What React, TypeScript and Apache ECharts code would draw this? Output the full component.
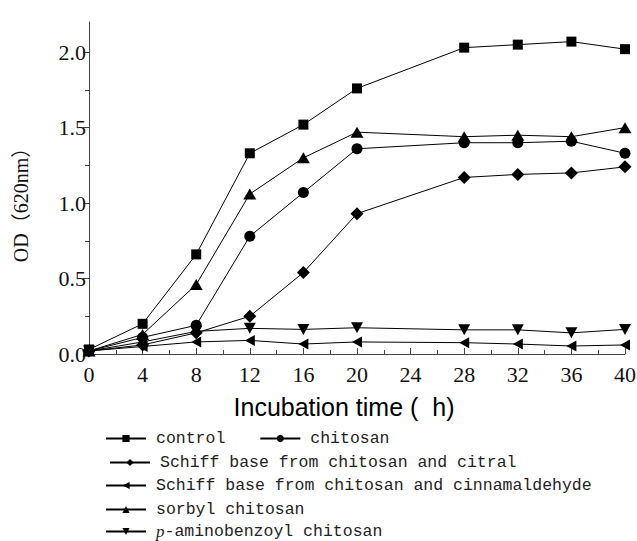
import React, { useEffect, useRef } from "react";
import * as echarts from "echarts";

const hours = [0, 4, 8, 12, 16, 20, 28, 32, 36, 40];
const control = [0.03, 0.2, 0.66, 1.33, 1.52, 1.76, 2.03, 2.05, 2.07, 2.02];
const chitosan = [0.02, 0.11, 0.19, 0.78, 1.07, 1.36, 1.4, 1.4, 1.41, 1.33];
const citral = [0.02, 0.06, 0.14, 0.25, 0.54, 0.93, 1.17, 1.19, 1.2, 1.24];
const cinnamaldehyde = [0.02, 0.05, 0.08, 0.09, 0.066, 0.08, 0.075, 0.066, 0.053, 0.06];
const sorbyl = [0.02, 0.13, 0.46, 1.06, 1.3, 1.47, 1.44, 1.45, 1.44, 1.5];
const aminobenzoyl = [0.02, 0.08, 0.15, 0.17, 0.163, 0.174, 0.16, 0.16, 0.14, 0.163];

const seriesNames = [
  "control",
  "chitosan",
  "Schiff base from chitosan and citral",
  "Schiff base from chitosan and cinnamaldehyde",
  "sorbyl chitosan",
  "p-aminobenzoyl chitosan",
];
const yMajorTicks = [0, 0.5, 1, 1.5, 2];
const yMinorTicks = [0.25, 0.75, 1.25, 1.75];
const xTitle = "Incubation time (  h)";
const yTitle = "OD（620nm）";

export default function App() {
  const ref = useRef<HTMLDivElement>(null);
  useEffect(() => {
    const chart = echarts.init(ref.current!, null, { renderer: "svg" });
    const values = [control, chitosan, citral, cinnamaldehyde, sorbyl, aminobenzoyl];
    const symbols: any[] = [
      { symbol: "rect", size: 10, rotate: 0 },
      { symbol: "circle", size: 11, rotate: 0 },
      { symbol: "diamond", size: 13, rotate: 0 },
      { symbol: "triangle", size: [11, 10], rotate: 90 },
      { symbol: "triangle", size: [13, 11], rotate: 0 },
      { symbol: "triangle", size: [12, 11], rotate: 180 },
    ];
    const series = seriesNames.map((name, k) => ({
      type: "line",
      name,
      data: hours.map((h, i) => [h, values[k][i]]),
      symbol: symbols[k].symbol,
      symbolSize: symbols[k].size,
      symbolRotate: symbols[k].rotate,
      showSymbol: true,
      color: "#000",
      lineStyle: { color: "#000", width: 1 },
      itemStyle: { color: "#000" },
      xAxisIndex: 0,
      yAxisIndex: 0,
    }));
    const serifFont = "Liberation Serif";
    const legendBase = {
      orient: "horizontal",
      padding: 0,
      itemWidth: 40,
      itemHeight: 9,
      itemGap: 34,
      selectedMode: false,
      formatter: (n: string) =>
        n.startsWith("p-") ? "{i|p}" + n.slice(1) : n,
      textStyle: {
        fontFamily: "Liberation Mono",
        fontSize: 16.5,
        lineHeight: 16,
        color: "#222",
        padding: [0, 0, 0, 5],
        rich: {
          i: {
            fontFamily: serifFont,
            fontStyle: "italic",
            fontSize: 17,
            lineHeight: 16,
            color: "#222",
          },
        },
      },
    };
    const legendRows = [
      { names: [seriesNames[0], seriesNames[1]], left: 105, top: 430 },
      { names: [seriesNames[2]], left: 109, top: 454 },
      { names: [seriesNames[3]], left: 105, top: 477 },
      { names: [seriesNames[4]], left: 105, top: 501 },
      { names: [seriesNames[5]], left: 105, top: 523 },
    ];
    chart.setOption({
      animation: false,
      backgroundColor: "#fff",
      grid: {
        left: 89,
        right: 12,
        top: 22,
        bottom: 187,
        containLabel: false,
        outerBoundsMode: "none",
      },
      legend: legendRows.map((r) => ({
        ...legendBase,
        data: r.names,
        left: r.left,
        top: r.top,
      })),
      xAxis: {
        type: "value",
        min: 0,
        max: 40,
        interval: 4,
        axisLine: { show: true, lineStyle: { color: "#444", width: 1 } },
        axisTick: {
          show: true,
          inside: true,
          length: 6,
          lineStyle: { color: "#444", width: 1 },
        },
        minorTick: {
          show: true,
          splitNumber: 2,
          length: 4,
          lineStyle: { color: "#444", width: 1 },
        },
        splitLine: { show: false },
        axisLabel: {
          margin: 9,
          fontFamily: serifFont,
          fontSize: 22,
          color: "#111",
        },
        name: xTitle,
        nameLocation: "middle",
        nameGap: 40,
        nameTextStyle: {
          fontFamily: "Liberation Sans",
          fontSize: 25,
          color: "#000",
          padding: [0, 26, 0, 0],
        },
      },
      yAxis: [
        {
          type: "value",
          min: 0,
          max: 2.2,
          position: "left",
          axisLine: { show: true, lineStyle: { color: "#444", width: 1 } },
          axisTick: {
            show: true,
            inside: false,
            length: 6,
            customValues: yMajorTicks,
            lineStyle: { color: "#444", width: 1 },
          },
          splitLine: { show: false },
          axisLabel: {
            customValues: yMajorTicks,
            formatter: (v: number) => v.toFixed(1),
            margin: 3,
            fontFamily: serifFont,
            fontSize: 22,
            color: "#111",
          },
        },
        {
          type: "value",
          min: 0,
          max: 2.2,
          position: "left",
          offset: 0,
          axisLine: { show: false },
          axisTick: {
            show: true,
            inside: false,
            length: 4,
            customValues: yMinorTicks,
            lineStyle: { color: "#444", width: 1 },
          },
          splitLine: { show: false },
          axisLabel: { show: false },
        },
      ],
      graphic: [
        {
          type: "text",
          x: 21,
          y: 200,
          rotation: Math.PI / 2,
          style: {
            text: yTitle,
            fontFamily: serifFont + ", Noto Sans CJK SC",
            fontSize: 20,
            fill: "#111",
            textAlign: "center",
            textVerticalAlign: "middle",
          },
        },
      ],
      series,
    });
    return () => chart.dispose();
  }, []);
  return (
    <div
      ref={ref}
      style={{ position: "absolute", left: 0, top: 0, width: 637, height: 541 }}
    />
  );
}
